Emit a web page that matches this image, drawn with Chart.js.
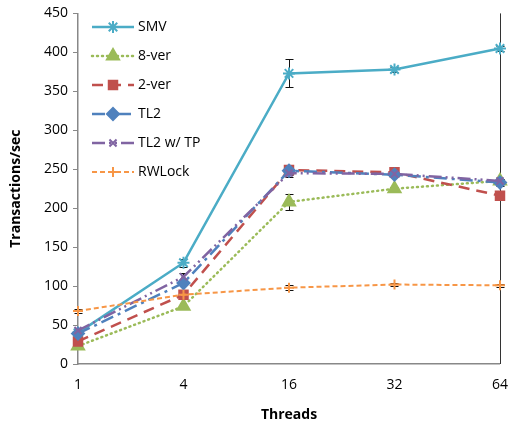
<!DOCTYPE html>
<html>
<head>
<meta charset="utf-8">
<script src="https://cdn.jsdelivr.net/npm/chart.js@4.4.1/dist/chart.umd.min.js"></script>
<style>
  html, body { margin: 0; padding: 0; background: #fff; }
  #wrap { width: 516px; height: 427px; }
</style>
</head>
<body>
<div id="wrap"><canvas id="canvas" width="516" height="427"></canvas></div>
<script>
const threads = ['1', '4', '16', '32', '64'];
const yTicks = [0, 50, 100, 150, 200, 250, 300, 350, 400, 450];

const smv = [40, 130, 373, 378, 405];
const ver8 = [23, 74, 208, 225, 235];
const ver2 = [29, 89, 249, 246, 216];
const tl2 = [39, 104, 248, 243, 233];
const tl2tp = [43, 112, 245, 244, 235];
const rwlock = [68, 89, 98, 102, 101];

// error bar half-heights
const smvErr = [1, 5, 18, 3, 3];
const ver8Err = [1, 2, 10, 2, 2];
const ver2Err = [1, 2, 3, 2, 3];
const tl2Err = [1, 2, 8, 2, 4];
const tl2tpErr = [1, 5, 3, 2, 2];
const rwlockErr = [2, 2, 3, 2, 2];

const FONT = '"Open Sans", "Liberation Sans", sans-serif';

function series(label, values, errs, color, dash, style, radius, width) {
  return {
    label: label,
    data: values,
    errors: errs,
    borderColor: color,
    backgroundColor: color,
    pointBackgroundColor: color,
    pointBorderColor: color,
    borderWidth: width,
    borderDash: dash,
    borderCapStyle: dash.length && dash[0] <= 2 ? 'round' : 'butt',
    pointStyle: style,
    pointRadius: radius,
    pointBorderWidth: 2,
    tension: 0,
    fill: false
  };
}

const datasets = [
  series('SMV', smv, smvErr, '#4BACC6', [], 'star', 6, 2.5),
  series('8-ver', ver8, ver8Err, '#9BBB59', [1, 4], 'triangle', 7, 2.5),
  series('2-ver', ver2, ver2Err, '#C0504D', [11, 7], 'rect', 6, 2.5),
  series('TL2', tl2, tl2Err, '#4F81BD', [13, 5, 3, 5], 'rectRot', 6, 2.5),
  series('TL2 w/ TP', tl2tp, tl2tpErr, '#8064A2', [13, 4, 2, 4, 2, 4], 'crossRot', 5, 2.5),
  series('RWLock', rwlock, rwlockErr, '#F79646', [5, 3], 'cross', 5, 2)
];
datasets.forEach((d, i) => { d.order = datasets.length - i; });

const errorBars = {
  id: 'errorBars',
  beforeDatasetsDraw(chart) {
    const ctx = chart.ctx;
    const y = chart.scales.y;
    ctx.save();
    ctx.strokeStyle = '#111';
    ctx.lineWidth = 1;
    chart.data.datasets.forEach((ds, i) => {
      const meta = chart.getDatasetMeta(i);
      meta.data.forEach((pt, j) => {
        const e = ds.errors[j];
        const top = Math.round(y.getPixelForValue(ds.data[j] + e)) + 0.5;
        const bot = Math.round(y.getPixelForValue(ds.data[j] - e)) + 0.5;
        const x = Math.round(pt.x) + 0.5;
        ctx.beginPath();
        ctx.moveTo(x, top); ctx.lineTo(x, bot);
        ctx.moveTo(x - 4, top); ctx.lineTo(x + 4, top);
        ctx.moveTo(x - 4, bot); ctx.lineTo(x + 4, bot);
        ctx.stroke();
      });
    });
    ctx.restore();
  }
};

const frame = {
  id: 'frame',
  beforeDatasetsDraw(chart) {
    const a = chart.chartArea;
    const ctx = chart.ctx;
    ctx.save();
    ctx.strokeStyle = '#333';
    ctx.lineWidth = 1;
    ctx.beginPath();
    ctx.moveTo(Math.round(a.right) + 0.5, a.bottom);
    ctx.lineTo(Math.round(a.right) + 0.5, a.top);
    ctx.stroke();
    ctx.restore();
  }
};

const insideLegend = {
  id: 'insideLegend',
  afterDraw(chart) {
    const ctx = chart.ctx;
    const x0 = 92, x1 = 134, yStart = 27, step = 29;
    ctx.save();
    chart.data.datasets.forEach((ds, i) => {
      const yy = yStart + i * step;
      ctx.strokeStyle = ds.borderColor;
      ctx.lineWidth = ds.borderWidth;
      ctx.lineCap = ds.borderCapStyle;
      ctx.setLineDash(ds.borderDash);
      ctx.beginPath();
      ctx.moveTo(x0, yy); ctx.lineTo(x1, yy);
      ctx.stroke();
      ctx.setLineDash([]);
      ctx.fillStyle = ds.borderColor;
      ctx.strokeStyle = ds.borderColor;
      ctx.lineWidth = ds.pointBorderWidth;
      Chart.helpers.drawPoint(ctx, {
        pointStyle: ds.pointStyle, radius: ds.pointRadius, borderWidth: ds.pointBorderWidth, rotation: 0
      }, (x0 + x1) / 2, yy);
      ctx.fillStyle = '#000';
      ctx.font = '14px ' + FONT;
      ctx.textBaseline = 'middle';
      ctx.fillText(ds.label, x1 + 4, yy);
    });
    ctx.restore();
  }
};

const config = {
  type: 'line',
  data: { labels: threads, datasets: datasets },
  options: {
    responsive: false,
    animation: false,
    layout: { autoPadding: false, padding: { top: 13, right: 7, left: 0, bottom: 0 } },
    plugins: { legend: { display: false }, tooltip: { enabled: false } },
    scales: {
      x: {
        type: 'category',
        offset: false,
        grid: { display: false, drawOnChartArea: false, drawTicks: true, tickLength: 5, color: '#888' },
        border: { display: true, color: '#888', width: 1.5 },
        ticks: { color: '#000', font: { family: FONT, size: 14 }, padding: 8, maxRotation: 0, autoSkip: false },
        title: { display: true, text: 'Threads', color: '#000', font: { family: FONT, size: 14, weight: 'bold' }, padding: { top: 4 } },
        afterFit(scale) { scale.height = 63; }
      },
      y: {
        min: 0,
        max: 450,
        afterBuildTicks(scale) { scale.ticks = yTicks.map(v => ({ value: v })); },
        grid: { display: true, drawOnChartArea: false, drawTicks: true, tickLength: 5, color: '#888' },
        border: { display: true, color: '#888', width: 1.5 },
        ticks: { color: '#000', font: { family: FONT, size: 14 }, padding: 5 },
        title: { display: true, text: 'Transactions/sec', color: '#000', font: { family: FONT, size: 14, weight: 'bold' }, padding: { top: 8, bottom: 2 } },
        afterFit(scale) { scale.width = 78; }
      }
    }
  },
  plugins: [frame, errorBars, insideLegend]
};

const canvas = document.getElementById('canvas');
const chart = new Chart(canvas, config);
</script>
</body>
</html>
